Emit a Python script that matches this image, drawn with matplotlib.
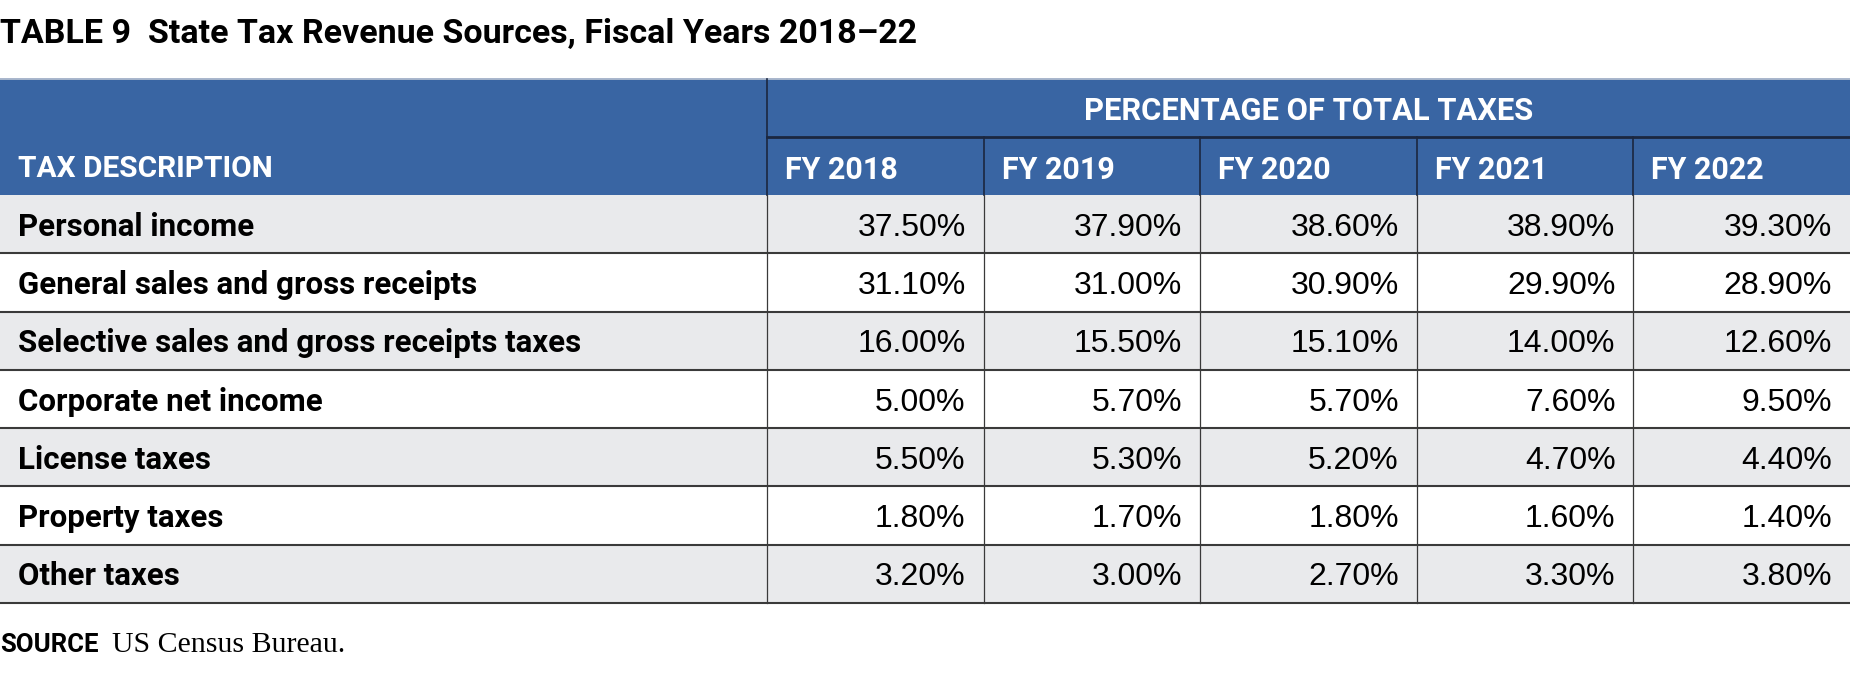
#!/usr/bin/env python3
"""
Table 9: state tax revenue sources, drawn as a table with matplotlib
"""

import matplotlib
matplotlib.use("Agg")
import matplotlib.pyplot as plt
from matplotlib.patches import Rectangle

title = "TABLE 9  State Tax Revenue Sources, Fiscal Years 2018\u201322"
group_header = "PERCENTAGE OF TOTAL TAXES"
first_header = "TAX DESCRIPTION"
years = ["FY 2018", "FY 2019", "FY 2020", "FY 2021", "FY 2022"]
taxes = ["Personal income",
         "General sales and gross receipts",
         "Selective sales and gross receipts taxes",
         "Corporate net income",
         "License taxes",
         "Property taxes",
         "Other taxes"]
personal_income = [37.5, 37.9, 38.6, 38.9, 39.3]
general_sales = [31.1, 31.0, 30.9, 29.9, 28.9]
selective_sales = [16.0, 15.5, 15.1, 14.0, 12.6]
corporate_income = [5.0, 5.7, 5.7, 7.6, 9.5]
license_taxes = [5.5, 5.3, 5.2, 4.7, 4.4]
property_taxes = [1.8, 1.7, 1.8, 1.6, 1.4]
other_taxes = [3.2, 3.0, 2.7, 3.3, 3.8]
source_label = "SOURCE"
source_text = "US Census Bureau."

rows = [personal_income, general_sales, selective_sales, corporate_income,
        license_taxes, property_taxes, other_taxes]

BLUE = "#3965a3"
GREY = "#e9eaec"
NAVY = "#1b2740"
LINE = "#3a3a3a"
BOLD = ["Roboto", "Liberation Sans", "DejaVu Sans"]
SANS = ["Liberation Sans", "DejaVu Sans"]
SERIF = ["Liberation Serif", "DejaVu Serif"]

W, H = 1850, 675
head_top, head_mid, head_bot = 79, 137, 195
row_h = (603 - head_bot) / len(taxes)
col_x = [767 + i * (W - 767) / len(years) for i in range(len(years) + 1)]
pad = 18


def main():
    fig = plt.figure(figsize=(W / 100, H / 100), dpi=100)
    ax = fig.add_axes([0, 0, 1, 1])
    ax.set_xlim(0, W)
    ax.set_ylim(H, 0)
    ax.axis("off")

    # title
    ax.text(0, 43, title, family=BOLD, weight="bold", fontsize=24.5,
            color="black", va="baseline", ha="left")

    # header block
    ax.add_patch(Rectangle((0, head_top), W, head_bot - head_top,
                           facecolor=BLUE, edgecolor="none"))
    ax.plot([0, W], [head_top, head_top], color="#a8b6cc", lw=1.4)
    ax.plot([col_x[0], W], [head_mid, head_mid], color=NAVY, lw=2)
    ax.plot([col_x[0], col_x[0]], [head_top, head_bot], color=NAVY, lw=1.2)
    for x in col_x[1:-1]:
        ax.plot([x, x], [head_mid, head_bot], color=NAVY, lw=1.2)

    ax.text(pad, 177, first_header, family=BOLD, weight="bold", fontsize=21.5,
            color="white", va="baseline", ha="left")
    ax.text((col_x[0] + W) / 2, 120, group_header, family=BOLD,
            weight="bold", fontsize=22.2, color="white", va="baseline",
            ha="center")
    for i, year in enumerate(years):
        ax.text(col_x[i] + pad, 179, year, family=BOLD, weight="bold",
                fontsize=22, color="white", va="baseline", ha="left")

    # body rows
    for r, (name, values) in enumerate(zip(taxes, rows)):
        y0 = head_bot + r * row_h
        if r % 2 == 0:
            ax.add_patch(Rectangle((0, y0), W, row_h, facecolor=GREY,
                                   edgecolor="none"))
        base = y0 + row_h / 2 + 11.5
        ax.text(pad, base, name, family=BOLD, weight="bold", fontsize=22.5,
                color="black", va="baseline", ha="left")
        for c, v in enumerate(values):
            ax.text(col_x[c + 1] - pad, base, f"{v:.2f}%", family=SANS,
                    fontsize=23, color="black", va="baseline", ha="right")
        ax.plot([0, W], [y0 + row_h, y0 + row_h], color=LINE, lw=1.5)

    for x in col_x[:-1]:
        ax.plot([x, x], [head_bot, head_bot + len(taxes) * row_h],
                color=LINE, lw=0.9)

    # source line
    src = ax.text(0, 652, source_label, family=BOLD, weight="bold",
                  fontsize=18.5, color="black", va="baseline", ha="left")
    fig.canvas.draw()
    bb = src.get_window_extent()
    ax.text(bb.x1 + 14, 652, source_text, family=SERIF, fontsize=21.5,
            color="black", va="baseline", ha="left")

    fig.savefig("out.png", dpi=100)


if __name__ == "__main__":
    main()
